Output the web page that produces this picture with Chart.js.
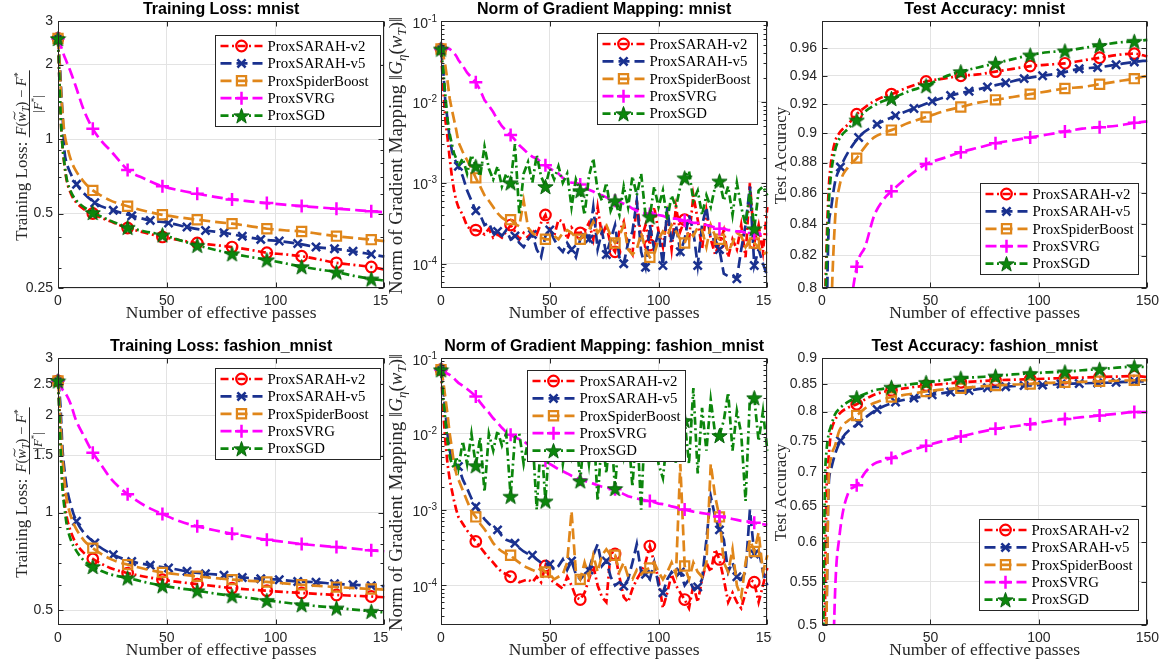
<!DOCTYPE html>
<html>
<head>
<meta charset="utf-8">
<script src="https://cdn.jsdelivr.net/npm/chart.js@4.4.1/dist/chart.umd.min.js"></script>
<style>
  html, body { margin: 0; padding: 0; background: #fff; }
  body { width: 1164px; height: 664px; position: relative; overflow: hidden; }
  canvas { position: absolute; background: #fff; }
</style>
</head>
<body>
<canvas id="lossMnist"></canvas>
<canvas id="gradMnist"></canvas>
<canvas id="accMnist"></canvas>
<canvas id="lossFashion"></canvas>
<canvas id="gradFashion"></canvas>
<canvas id="accFashion"></canvas>
<script>
// ---- data ----
const seriesNames = ['ProxSARAH-v2', 'ProxSARAH-v5', 'ProxSpiderBoost', 'ProxSVRG', 'ProxSGD'];

const passesSmooth = [0, 0.5, 1, 1.5, 2, 3, 4, 6, 8, 12, 16, 20, 24, 28, 32, 40, 48, 56, 64, 72, 80, 88, 96, 104, 112, 120, 128, 136, 144, 150];
const passesV5 = [0, 0.5, 1, 1.5, 2, 3, 4, 6, 8.5, 16.9, 25.4, 33.9, 42.4, 50.8, 59.3, 67.8, 76.3, 84.7, 93.2, 101.7, 110.2, 118.6, 127.1, 135.6, 144, 150];
const passesGrad = [0, 1, 2, 3, 4, 5, 6, 7, 8, 10, 12, 14, 16, 18, 20, 22, 24, 26, 28, 30, 32, 34, 36, 38, 40, 42, 44, 46, 48,
  50, 52, 54, 56, 58, 60, 62, 64, 66, 68, 70, 72, 74, 76, 78, 80, 82, 84, 86, 88, 90, 92, 94, 96, 98, 100, 102, 104, 106, 108,
  110, 112, 114, 116, 118, 120, 122, 124, 126, 128, 130, 132, 134, 136, 138, 140, 142, 144, 146, 148, 150];

const marksEvery16 = [0, 16, 32, 48, 64, 80, 96, 112, 128, 144];
const marksV5 = [0, 8.5, 16.9, 25.4, 33.9, 42.4, 50.8, 59.3, 67.8, 76.3, 84.7, 93.2, 101.7, 110.2, 118.6, 127.1, 135.6, 144];

const xTicks = [0, 50, 100, 150];
const yTicksLossMnist = [0.25, 0.5, 1, 2, 3];
const yTicksLossFashion = [0.5, 1, 1.5, 2, 2.5, 3];
const yTicksGrad = [1e-4, 1e-3, 1e-2, 1e-1];
const yTicksAccMnist = [0.8, 0.82, 0.84, 0.86, 0.88, 0.9, 0.92, 0.94, 0.96];
const yTicksAccFashion = [0.5, 0.55, 0.6, 0.65, 0.7, 0.75, 0.8, 0.85, 0.9];

// training loss: mnist
const lossMnistV2 = [2.55, 1.9, 1.4, 1.1, 0.95, 0.78, 0.68, 0.6, 0.56, 0.52, 0.5, 0.48, 0.465, 0.45, 0.437, 0.418, 0.402, 0.39, 0.38, 0.373, 0.366, 0.357, 0.347, 0.342, 0.336, 0.326, 0.316, 0.31, 0.304, 0.297];
const lossMnistV5 = [2.55, 2.2, 1.9, 1.55, 1.3, 0.89, 0.8, 0.72, 0.656, 0.553, 0.515, 0.49, 0.469, 0.458, 0.441, 0.427, 0.418, 0.405, 0.393, 0.387, 0.378, 0.366, 0.36, 0.352, 0.342, 0.335];
const lossMnistSB = [2.55, 2.2, 1.77, 1.5, 1.3, 1.05, 0.95, 0.82, 0.75, 0.67, 0.62, 0.59, 0.565, 0.548, 0.535, 0.512, 0.494, 0.482, 0.472, 0.463, 0.455, 0.445, 0.434, 0.428, 0.423, 0.414, 0.405, 0.398, 0.392, 0.387];
const lossMnistSVRG = [2.55, 2.5, 2.42, 2.35, 2.28, 2.15, 2.05, 1.85, 1.65, 1.3, 1.1, 0.98, 0.9, 0.82, 0.75, 0.69, 0.644, 0.62, 0.601, 0.584, 0.57, 0.56, 0.551, 0.543, 0.536, 0.529, 0.523, 0.517, 0.511, 0.506];
const lossMnistSGD = [2.55, 1.9, 1.4, 1.1, 0.95, 0.79, 0.69, 0.61, 0.57, 0.53, 0.505, 0.485, 0.468, 0.453, 0.44, 0.423, 0.41, 0.39, 0.372, 0.357, 0.344, 0.334, 0.325, 0.315, 0.305, 0.297, 0.29, 0.28, 0.272, 0.268];

// norm of gradient mapping: mnist
const gradMnistV2 = [4.5e-2, 1.5e-2, 6e-3, 3.6e-3, 2e-3, 1.2e-3, 8e-4, 6e-4, 5e-4,
  4e-4, 2.9e-4, 2.6e-4, 2.6e-4, 2.5e-4, 2.3e-4, 2.7e-4, 2.1e-4, 2.3e-4, 2.1e-4,
  2.5e-4, 3e-4, 2.5e-4, 2e-4, 2.4e-4, 2.1e-4, 2.6e-4, 2.3e-4, 3.2e-4, 4e-4,
  2.6e-4, 2.2e-4, 3.5e-4, 3.3e-4, 2e-4, 2.8e-4, 2.4e-4, 2.4e-4, 2.5e-4, 3.2e-4,
  2e-4, 5e-4, 2.2e-4, 3e-4, 1.7e-4, 1.4e-4, 2.5e-4, 3.3e-4, 1.6e-4, 1.3e-4,
  6e-4, 2e-4, 3e-4, 1.7e-4, 5e-4, 2.5e-4, 1.6e-4, 4e-4, 1.5e-4, 5e-4,
  2.5e-4, 3.5e-4, 2e-4, 7e-4, 3.5e-4, 1.5e-4, 4.5e-4, 2e-4, 1.3e-4, 1.8e-4,
  2.6e-4, 1.2e-4, 2e-4, 1.5e-4, 3e-4, 1.2e-4, 1e-3, 1.8e-4, 3e-4, 1.4e-4,
  5e-4];
const gradMnistV5 = [4.5e-2, 2.5e-2, 1e-2, 6e-3, 3.5e-3, 2.5e-3, 2e-3, 1.8e-3, 1.6e-3,
  1.2e-3, 8e-4, 6e-4, 4.5e-4, 4e-4, 3e-4, 3.2e-4, 2.4e-4, 2.5e-4, 2.2e-4,
  2.6e-4, 2e-4, 2.2e-4, 1.8e-4, 1.6e-4, 2e-4, 2.3e-4, 1.5e-4, 1.2e-4, 2.2e-4,
  2.6e-4, 2e-4, 1.6e-4, 1.4e-4, 1.8e-4, 1.5e-4, 1.2e-4, 2e-4, 2.5e-4, 2e-4,
  5e-4, 1.5e-4, 2.5e-4, 1.3e-4, 2e-4, 3e-4, 1.2e-4, 1e-4, 1.8e-4, 2.5e-4,
  6e-4, 1.4e-4, 9e-5, 3e-4, 1.5e-4, 2.5e-4, 9.5e-5, 5e-4, 1.8e-4, 3e-4,
  1.4e-4, 2e-4, 4e-4, 2.5e-4, 9.5e-5, 3e-4, 5e-4, 2e-4, 2e-4, 1.5e-4,
  7.5e-5, 7e-5, 7e-5, 6.5e-5, 1.5e-4, 3e-4, 9e-4, 9.5e-5, 1.5e-4, 1e-4,
  7e-5];
const gradMnistSB = [4.5e-2, 3.8e-2, 2.8e-2, 1.8e-2, 1.1e-2, 8e-3, 6e-3, 4.5e-3, 3.2e-3,
  2.4e-3, 1.9e-3, 1.5e-3, 1.15e-3, 9e-4, 7e-4, 6e-4, 5e-4, 4.2e-4, 3.7e-4,
  3.4e-4, 3.5e-4, 3.1e-4, 2.9e-4, 6e-4, 2.8e-4, 2.4e-4, 2.2e-4, 2.1e-4, 2e-4,
  2e-4, 2.2e-4, 2e-4, 2.4e-4, 2.6e-4, 2.4e-4, 2.1e-4, 2e-4, 2.3e-4, 2.6e-4,
  3.3e-4, 2.4e-4, 2.8e-4, 3e-4, 2.2e-4, 1.8e-4, 2.2e-4, 3e-4, 1.5e-4, 1.3e-4,
  1.5e-4, 2.4e-4, 1.5e-4, 1.2e-4, 1.3e-4, 2e-4, 2.5e-4, 2.2e-4, 3e-4, 2.5e-4,
  2e-4, 1.8e-4, 2.5e-4, 2.2e-4, 2.8e-4, 2.6e-4, 1.6e-4, 3e-4, 2.2e-4, 2e-4,
  2e-4, 1.4e-4, 1.8e-4, 2.4e-4, 2.2e-4, 1.6e-4, 2e-4, 1.8e-4, 1.6e-4, 1.3e-4,
  1.4e-4];
const gradMnistSVRG = [4.5e-2, 4.6e-2, 4.6e-2, 4.6e-2, 4.5e-2, 4.3e-2, 4e-2, 3.7e-2, 3.3e-2,
  2.8e-2, 2.3e-2, 2e-2, 1.75e-2, 1.4e-2, 1.05e-2, 9e-3, 7.5e-3, 6e-3, 5e-3,
  4.4e-3, 3.9e-3, 3.4e-3, 2.9e-3, 2.6e-3, 2.3e-3, 2.1e-3, 2e-3, 1.8e-3, 1.65e-3,
  1.5e-3, 1.4e-3, 1.3e-3, 1.15e-3, 1.05e-3, 1e-3, 1e-3, 9.5e-4, 8.8e-4, 8.2e-4,
  7.8e-4, 7.2e-4, 7e-4, 6.6e-4, 6.3e-4, 6e-4, 5.8e-4, 5.5e-4, 5.2e-4, 4.8e-4,
  4.5e-4, 4.3e-4, 4.2e-4, 4.1e-4, 4.4e-4, 4e-4, 3.9e-4, 3.7e-4, 3.6e-4, 3.6e-4,
  3.5e-4, 3.4e-4, 3.3e-4, 3.2e-4, 3.2e-4, 3.1e-4, 3e-4, 2.9e-4, 2.8e-4, 2.7e-4,
  2.7e-4, 2.6e-4, 2.6e-4, 2.5e-4, 2.5e-4, 2.4e-4, 2.4e-4, 2.4e-4, 2.3e-4, 2.3e-4,
  2.3e-4];
const gradMnistSGD = [4.5e-2, 2.5e-2, 1.2e-2, 6e-3, 4e-3, 3e-3, 2.3e-3, 2e-3, 1.6e-3,
  2e-3, 1.3e-3, 2.2e-3, 1.6e-3, 1.2e-3, 2.8e-3, 1.5e-3, 1.1e-3, 1.6e-3, 9e-4,
  1.3e-3, 1e-3, 3e-3, 4e-4, 1.3e-3, 1.8e-3, 1e-3, 2.2e-3, 1.2e-3, 9e-4,
  1.5e-3, 1.1e-3, 1.6e-3, 1e-3, 1.3e-3, 5e-4, 1.1e-3, 8e-4, 4e-4, 1.2e-3,
  2e-3, 8e-4, 6e-4, 1e-3, 4.5e-4, 6e-4, 4e-4, 9e-4, 5e-4, 1.2e-3,
  7e-4, 1.3e-3, 4e-4, 3.8e-4, 9e-4, 5e-4, 8e-4, 3.5e-4, 7e-4, 5e-4,
  9e-4, 1.15e-3, 1.4e-3, 6e-4, 8e-4, 4e-4, 7e-4, 5e-4, 9e-4, 1.05e-3,
  6e-4, 9e-4, 4e-4, 1e-3, 5e-4, 3e-4, 8e-4, 2.7e-4, 8e-4, 9e-4,
  7e-4];

// test accuracy: mnist
const accMnistV2 = [0.3, 0.5, 0.7, 0.79, 0.82, 0.86, 0.878, 0.894, 0.9, 0.906, 0.913, 0.918, 0.922, 0.925, 0.927, 0.932, 0.936, 0.938, 0.94, 0.941, 0.943, 0.945, 0.947, 0.948, 0.949, 0.951, 0.953, 0.955, 0.956, 0.954];
const accMnistV5 = [0.2, 0.35, 0.5, 0.65, 0.75, 0.834, 0.848, 0.867, 0.877, 0.897, 0.906, 0.912, 0.917, 0.922, 0.926, 0.929, 0.932, 0.935, 0.938, 0.94, 0.942, 0.945, 0.946, 0.948, 0.95, 0.951];
const accMnistSB = [0.2, 0.3, 0.4, 0.5, 0.6, 0.7, 0.77, 0.842, 0.864, 0.877, 0.883, 0.891, 0.897, 0.9, 0.902, 0.907, 0.911, 0.915, 0.918, 0.921, 0.923, 0.925, 0.927, 0.929, 0.931, 0.932, 0.934, 0.936, 0.938, 0.94];
const accMnistSVRG = [0.1, 0.15, 0.2, 0.25, 0.3, 0.4, 0.5, 0.6, 0.68, 0.77, 0.813, 0.826, 0.845, 0.855, 0.861, 0.871, 0.879, 0.883, 0.887, 0.89, 0.893, 0.895, 0.897, 0.899, 0.901, 0.903, 0.904, 0.905, 0.907, 0.908];
const accMnistSGD = [0.3, 0.5, 0.7, 0.78, 0.81, 0.85, 0.87, 0.888, 0.896, 0.903, 0.909, 0.915, 0.919, 0.922, 0.924, 0.929, 0.933, 0.939, 0.943, 0.946, 0.949, 0.952, 0.955, 0.957, 0.958, 0.96, 0.962, 0.964, 0.965, 0.966];

// training loss: fashion_mnist
const lossFashionV2 = [2.55, 2.2, 1.8, 1.45, 1.25, 1.08, 0.97, 0.87, 0.81, 0.75, 0.72, 0.695, 0.675, 0.661, 0.651, 0.634, 0.621, 0.61, 0.602, 0.593, 0.585, 0.579, 0.574, 0.569, 0.565, 0.561, 0.557, 0.554, 0.551, 0.548];
const lossFashionV5 = [2.55, 2.4, 2.2, 1.9, 1.6, 1.35, 1.2, 1.05, 0.94, 0.806, 0.741, 0.707, 0.688, 0.675, 0.659, 0.648, 0.641, 0.631, 0.625, 0.621, 0.613, 0.61, 0.603, 0.599, 0.595, 0.593];
const lossFashionSB = [2.55, 2.3, 2.0, 1.7, 1.5, 1.25, 1.1, 0.97, 0.9, 0.82, 0.777, 0.745, 0.72, 0.703, 0.691, 0.67, 0.654, 0.644, 0.636, 0.628, 0.621, 0.616, 0.611, 0.605, 0.599, 0.594, 0.589, 0.585, 0.581, 0.579];
const lossFashionSVRG = [2.55, 2.52, 2.48, 2.44, 2.4, 2.35, 2.3, 2.15, 1.95, 1.72, 1.53, 1.4, 1.28, 1.2, 1.14, 1.05, 0.99, 0.94, 0.907, 0.882, 0.861, 0.842, 0.825, 0.812, 0.8, 0.791, 0.783, 0.774, 0.765, 0.76];
const lossFashionSGD = [2.55, 2.1, 1.7, 1.4, 1.2, 1.03, 0.92, 0.82, 0.77, 0.71, 0.682, 0.66, 0.645, 0.636, 0.629, 0.61, 0.595, 0.584, 0.574, 0.563, 0.554, 0.545, 0.536, 0.528, 0.52, 0.514, 0.508, 0.502, 0.496, 0.492];

// norm of gradient mapping: fashion_mnist
const gradFashionV2 = [7e-2, 2e-2, 8e-3, 4e-3, 2.5e-3, 1.8e-3, 1.3e-3, 1e-3, 8e-4,
  6.5e-4, 5.3e-4, 4.5e-4, 3.8e-4, 3.2e-4, 2.7e-4, 2.3e-4, 2e-4, 1.7e-4, 1.5e-4,
  1.4e-4, 1.3e-4, 1.2e-4, 1.1e-4, 1.15e-4, 1.2e-4, 1.1e-4, 1.3e-4, 1.1e-4, 1.8e-4,
  1.2e-4, 1.1e-4, 1e-4, 9e-5, 1.3e-4, 1e-4, 7e-5, 6.5e-5, 8e-5, 1.2e-4,
  1.8e-4, 1e-4, 7e-5, 6e-5, 2.8e-4, 2.6e-4, 1.3e-4, 7e-5, 6e-5, 9e-5,
  1.2e-4, 1.5e-4, 2e-4, 3.3e-4, 2e-4, 1.2e-4, 5e-5, 8e-5, 1.4e-4, 1e-4,
  8e-5, 6.5e-5, 5e-5, 1e-4, 6e-5, 1.2e-4, 2e-4, 1.5e-4, 3e-4, 2.2e-4,
  1.2e-4, 6e-5, 8e-5, 6e-5, 5e-5, 8e-5, 1.2e-4, 1.1e-4, 6e-5, 1e-4,
  1.7e-4];
const gradFashionV5 = [7e-2, 4e-2, 2e-2, 1e-2, 6e-3, 4.5e-3, 3.8e-3, 3.5e-3, 3.7e-3,
  2.5e-3, 1.9e-3, 1.4e-3, 1.1e-3, 9e-4, 7.5e-4, 6.5e-4, 5.8e-4, 5.4e-4, 4.5e-4,
  4e-4, 3.8e-4, 3.6e-4, 3.1e-4, 2.8e-4, 2.6e-4, 2.5e-4, 2.2e-4, 2e-4, 1.9e-4,
  1.9e-4, 1.6e-4, 1.8e-4, 2.2e-4, 1.6e-4, 2.1e-4, 1.4e-4, 1.2e-4, 1.4e-4, 1.6e-4,
  2.5e-4, 3.5e-4, 1.8e-4, 2.1e-4, 1.3e-4, 1e-4, 1.1e-4, 9.8e-5, 1.2e-4, 2e-4,
  3.5e-4, 1.5e-4, 1.4e-4, 1.2e-4, 2e-4, 1e-4, 8e-5, 1.2e-4, 1.5e-4, 1.3e-4,
  1.5e-4, 1e-4, 1.2e-4, 9e-5, 9.5e-5, 1.2e-4, 4e-4, 1.5e-3, 8e-4, 5.4e-4,
  4e-4, 1.5e-4, 2e-4, 1.3e-4, 1.2e-4, 1.5e-4, 1e-3, 2.6e-4, 3e-4, 1.5e-4,
  1e-4];
const gradFashionSB = [7e-2, 5e-2, 3e-2, 1.8e-2, 1e-2, 6.5e-3, 4e-3, 3e-3, 2.5e-3,
  1.8e-3, 1.3e-3, 9.5e-4, 8e-4, 6.5e-4, 5.5e-4, 4.5e-4, 3.6e-4, 3.1e-4, 2.8e-4,
  2.6e-4, 2.5e-4, 2.2e-4, 2e-4, 1.8e-4, 1.7e-4, 1.6e-4, 1.5e-4, 1.7e-4, 1.5e-4,
  1.4e-4, 1.2e-4, 1.3e-4, 1.4e-4, 2e-4, 9.5e-4, 1.5e-4, 1.2e-4, 2e-4, 1.3e-4,
  2.5e-4, 1.5e-4, 2.5e-4, 3e-4, 2.5e-4, 2.5e-4, 1.5e-4, 2e-4, 1.3e-4, 1.2e-4,
  1.6e-4, 1.4e-4, 1.6e-4, 1.7e-4, 2e-4, 1.5e-4, 1.2e-4, 1.5e-4, 2e-4, 1.4e-4,
  4e-3, 1.8e-4, 1.2e-4, 2e-4, 1.5e-4, 1.3e-4, 2e-4, 4e-3, 1.5e-3, 8e-4,
  2e-4, 1.5e-4, 3e-4, 1e-4, 7e-5, 2e-4, 4e-4, 2.8e-4, 5e-4, 1.5e-4,
  2.5e-4];
const gradFashionSVRG = [7e-2, 6.8e-2, 6.5e-2, 6.2e-2, 6e-2, 5.7e-2, 5.4e-2, 5e-2, 4.7e-2,
  4.3e-2, 3.9e-2, 3.5e-2, 3.1e-2, 2.6e-2, 2.2e-2, 1.9e-2, 1.6e-2, 1.4e-2, 1.2e-2,
  1.05e-2, 9.7e-3, 9e-3, 8.5e-3, 8e-3, 7.2e-3, 6.3e-3, 5.5e-3, 4.8e-3, 4.4e-3,
  4e-3, 3.7e-3, 3.4e-3, 3.2e-3, 3e-3, 2.8e-3, 2.65e-3, 2.5e-3, 2.4e-3, 2.3e-3,
  2.2e-3, 2.1e-3, 2e-3, 1.95e-3, 1.9e-3, 1.85e-3, 1.7e-3, 1.6e-3, 1.5e-3, 1.45e-3,
  1.4e-3, 1.35e-3, 1.32e-3, 1.3e-3, 1.25e-3, 1.2e-3, 1.18e-3, 1.15e-3, 1.1e-3, 1.07e-3,
  1.03e-3, 1e-3, 9.7e-4, 9.4e-4, 9.2e-4, 9e-4, 8.8e-4, 8.6e-4, 8.3e-4, 8.1e-4,
  7.9e-4, 7.7e-4, 7.5e-4, 7.3e-4, 7.1e-4, 7e-4, 6.9e-4, 6.7e-4, 6.5e-4, 6.4e-4,
  6.3e-4];
const gradFashionSGD = [7e-2, 3e-2, 1.5e-2, 8e-3, 5e-3, 4e-3, 3.5e-3, 5e-3, 3.5e-3,
  8e-3, 4e-3, 1e-2, 3.8e-3, 9e-3, 1.7e-3, 1e-2, 6e-3, 1.1e-2, 7e-3,
  1e-2, 1.5e-3, 9e-3, 1e-2, 4e-3, 8e-3, 1e-2, 1e-3, 9e-3, 1.3e-3,
  1e-2, 5e-3, 1.2e-2, 4e-3, 1e-2, 5e-3, 1e-2, 2.4e-3, 1.1e-2, 4e-3,
  1.5e-2, 1.3e-3, 1e-2, 3e-3, 1.3e-2, 1.9e-3, 1.2e-2, 5e-3, 1.1e-2, 2e-3,
  1.5e-2, 1e-3, 2e-2, 6e-3, 1.2e-2, 4e-3, 2.6e-3, 9e-3, 1.6e-2, 4e-3,
  2e-2, 1.5e-2, 4e-3, 4e-2, 3e-3, 2.2e-2, 6e-3, 2.8e-2, 1e-2, 9.5e-3,
  1.5e-2, 3.5e-2, 6e-3, 2e-2, 1e-2, 1.3e-3, 3e-2, 3e-2, 8e-3, 2e-2,
  6e-3];

// test accuracy: fashion_mnist
const accFashionV2 = [0.2, 0.3, 0.4, 0.55, 0.66, 0.72, 0.76, 0.785, 0.796, 0.807, 0.813, 0.822, 0.83, 0.835, 0.838, 0.843, 0.847, 0.85, 0.853, 0.855, 0.857, 0.858, 0.859, 0.86, 0.861, 0.862, 0.863, 0.864, 0.865, 0.863];
const accFashionV5 = [0.15, 0.25, 0.35, 0.45, 0.5, 0.674, 0.702, 0.728, 0.75, 0.78, 0.8035, 0.817, 0.824, 0.83, 0.835, 0.838, 0.843, 0.845, 0.847, 0.848, 0.85, 0.851, 0.852, 0.853, 0.855, 0.855];
const accFashionSB = [0.15, 0.25, 0.35, 0.45, 0.5, 0.68, 0.72, 0.742, 0.767, 0.784, 0.793, 0.806, 0.815, 0.821, 0.826, 0.831, 0.836, 0.84, 0.842, 0.845, 0.847, 0.849, 0.85, 0.852, 0.853, 0.854, 0.855, 0.856, 0.857, 0.857];
const accFashionSVRG = [0.05, 0.08, 0.1, 0.13, 0.16, 0.25, 0.35, 0.535, 0.607, 0.668, 0.68, 0.7, 0.713, 0.718, 0.722, 0.733, 0.742, 0.75, 0.757, 0.764, 0.77, 0.774, 0.778, 0.783, 0.787, 0.79, 0.793, 0.796, 0.799, 0.799];
const accFashionSGD = [0.3, 0.45, 0.6, 0.7, 0.73, 0.76, 0.773, 0.795, 0.805, 0.817, 0.825, 0.832, 0.838, 0.841, 0.844, 0.849, 0.853, 0.857, 0.861, 0.863, 0.865, 0.868, 0.87, 0.872, 0.873, 0.876, 0.878, 0.881, 0.883, 0.882];

// ---- styling ----
const SANS = '"Liberation Sans", Arial, Helvetica, sans-serif';
const SERIF = '"Liberation Serif", "Times New Roman", serif';
const AXIS = '#262626';
const GRID = '#e3e3e3';

function makeStar(size, fill, edge) {
    const c = document.createElement('canvas');
    c.width = size; c.height = size;
    const g = c.getContext('2d');
    const cx = size / 2, cy = size / 2 + size * 0.05, R = size / 2 - 0.5, r = R * 0.4;
    g.beginPath();
    for (let i = 0; i < 10; i++) {
        const ang = -Math.PI / 2 + i * Math.PI / 5;
        const rr = i % 2 ? r : R;
        g.lineTo(cx + rr * Math.cos(ang), cy + rr * Math.sin(ang));
    }
    g.closePath();
    g.fillStyle = fill; g.fill();
    g.strokeStyle = edge; g.lineWidth = 1; g.stroke();
    return c;
}
const STAR = makeStar(17, '#0c860c', '#06600a');

const DASH = [11, 5];
const DASHDOT = [8, 3.5, 2, 3.5];
const styles = [
    { color: '#ff0000', dash: DASHDOT, point: 'circle', radius: 5.3, pw: 2.2 },
    { color: '#1a318f', dash: DASH, point: 'crossRot', radius: 5.8, pw: 2.5 },
    { color: '#e0861a', dash: DASH, point: 'rect', radius: 6.5, pw: 2.2 },
    { color: '#ff00ff', dash: DASH, point: 'cross', radius: 6.5, pw: 2.5 },
    { color: '#0c860c', dash: DASHDOT, point: STAR, radius: 8, pw: 1 }
];

function nearestIndices(xs, targets) {
    const set = new Set();
    targets.forEach(t => {
        let best = 0;
        xs.forEach((x, i) => { if (Math.abs(x - t) < Math.abs(xs[best] - t)) best = i; });
        set.add(best);
    });
    return set;
}

function makeDataset(k, xs, ys, marks, smooth) {
    const st = styles[k];
    const marked = nearestIndices(xs, marks);
    return {
        label: seriesNames[k],
        data: xs.map((x, i) => ({ x, y: ys[i] })),
        borderColor: st.color,
        backgroundColor: 'rgba(0,0,0,0)',
        borderWidth: 2.7,
        borderDash: st.dash,
        pointStyle: st.point,
        pointRadius: ctx => marked.has(ctx.dataIndex) ? st.radius : 0,
        pointHoverRadius: 0,
        pointBorderWidth: st.pw,
        pointBorderColor: st.color,
        pointBackgroundColor: 'rgba(0,0,0,0)',
        cubicInterpolationMode: smooth ? 'monotone' : 'default',
        tension: 0,
        order: 4 - k,
        clip: { left: 10, top: 8, right: 2, bottom: 0 }
    };
}

function smoothSets(v2, v5, sb, svrg, sgd) {
    return [
        makeDataset(0, passesSmooth, v2, marksEvery16, true),
        makeDataset(1, passesV5, v5, marksV5, true),
        makeDataset(2, passesSmooth, sb, marksEvery16, true),
        makeDataset(3, passesSmooth, svrg, marksEvery16, true),
        makeDataset(4, passesSmooth, sgd, marksEvery16, true)
    ];
}

function gradSets(v2, v5, sb, svrg, sgd) {
    return [
        makeDataset(0, passesGrad, v2, marksEvery16, false),
        makeDataset(1, passesGrad, v5, marksV5, false),
        makeDataset(2, passesGrad, sb, marksEvery16, false),
        makeDataset(3, passesGrad, svrg, marksEvery16, false),
        makeDataset(4, passesGrad, sgd, marksEvery16, false)
    ];
}

// ---- rich text for the y labels ----
function segFont(s) { return (s.italic ? 'italic ' : '') + s.size + 'px ' + SERIF; }

function richWidth(ctx, segs) {
    let w = 0;
    segs.forEach(s => {
        if (s.frac) {
            w += Math.max(richWidth(ctx, s.frac.num), richWidth(ctx, s.frac.den)) + 4;
        } else {
            ctx.font = segFont(s);
            w += ctx.measureText(s.t).width;
        }
    });
    return w;
}

function drawRich(ctx, segs, x, y) {
    segs.forEach(s => {
        if (s.frac) {
            const wn = richWidth(ctx, s.frac.num), wd = richWidth(ctx, s.frac.den);
            const w = Math.max(wn, wd) + 4;
            drawRich(ctx, s.frac.num, x + (w - wn) / 2, y + s.frac.numY);
            drawRich(ctx, s.frac.den, x + (w - wd) / 2, y + s.frac.denY);
            ctx.fillRect(x, y + s.frac.barY - 0.5, w, 1);
            x += w;
            return;
        }
        ctx.font = segFont(s);
        const w = ctx.measureText(s.t).width;
        const by = y + (s.dy || 0);
        ctx.fillText(s.t, x, by);
        if (s.tilde) {
            const ty = by - s.size * 0.8, tx = x + w * 0.2, tw = w * 0.85;
            ctx.beginPath();
            ctx.moveTo(tx, ty + 1);
            ctx.bezierCurveTo(tx + tw * 0.3, ty - 2.5, tx + tw * 0.6, ty + 3, tx + tw, ty - 1);
            ctx.lineWidth = 1;
            ctx.stroke();
        }
        x += w;
    });
    return x;
}

const lossLabel = [
    { t: 'Training Loss: ', size: 17 },
    { frac: {
        numY: -1, barY: 2.5, denY: 14.5,
        num: [
            { t: 'F', size: 14.5, italic: true }, { t: '(', size: 14.5 },
            { t: 'w', size: 14.5, italic: true, tilde: true }, { t: 'T', size: 10, italic: true, dy: 2.5 },
            { t: ')', size: 14.5 }, { t: ' \u2212 ', size: 14.5 }, { t: 'F', size: 14.5, italic: true },
            { t: '*', size: 10, dy: -5.5 }
        ],
        den: [
            { t: '|', size: 13 }, { t: 'F', size: 13, italic: true }, { t: '*', size: 9, dy: -5 }, { t: '|', size: 13 }
        ]
    } }
];
const gradLabel = [
    { t: 'Norm of Gradient Mapping ', size: 19 },
    { t: '\u2016', size: 19 }, { t: 'G', size: 19, italic: true }, { t: '\u03b7', size: 13, italic: true, dy: 4 },
    { t: '(', size: 19 }, { t: 'w', size: 19, italic: true, tilde: true }, { t: 'T', size: 13, italic: true, dy: 4 },
    { t: ')', size: 19 }, { t: '\u2016', size: 19 }
];
const accLabel = [{ t: 'Test Accuracy', size: 17 }];

function minorTicks(min, max, majors) {
    const out = [];
    for (let e = Math.floor(Math.log10(min)); e <= Math.ceil(Math.log10(max)); e++) {
        for (let m = 2; m <= 9; m++) {
            const v = m * Math.pow(10, e);
            if (v <= min * 1.001 || v >= max * 0.999) continue;
            if (majors.some(t => Math.abs(t - v) < v * 1e-6)) continue;
            out.push(v);
        }
    }
    return out;
}

function drawMarker(ctx, st, x, y) {
    ctx.save();
    ctx.setLineDash([]);
    ctx.strokeStyle = st.color;
    ctx.lineWidth = st.pw;
    const r = st.radius;
    ctx.beginPath();
    if (st.point === 'circle') {
        ctx.arc(x, y, r, 0, Math.PI * 2);
    } else if (st.point === 'crossRot') {
        const d = r * Math.SQRT1_2;
        ctx.moveTo(x - d, y - d); ctx.lineTo(x + d, y + d);
        ctx.moveTo(x + d, y - d); ctx.lineTo(x - d, y + d);
    } else if (st.point === 'rect') {
        const d = r * Math.SQRT1_2;
        ctx.rect(x - d, y - d, 2 * d, 2 * d);
    } else if (st.point === 'cross') {
        ctx.moveTo(x, y - r); ctx.lineTo(x, y + r);
        ctx.moveTo(x - r, y); ctx.lineTo(x + r, y);
    } else {
        ctx.drawImage(st.point, x - st.point.width / 2, y - st.point.height / 2);
    }
    ctx.stroke();
    ctx.restore();
}

// MATLAB-like frame, labels and legend
const matlabFrame = {
    id: 'matlabFrame',
    afterDraw(chart, _args, o) {
        const { ctx, chartArea: a } = chart;
        const xs = chart.scales.x, ys = chart.scales.y;
        const L = Math.round(a.left) + 0.5, R = Math.round(a.right) - 0.5;
        const T = Math.round(a.top) + 0.5, B = Math.round(a.bottom) - 0.5;
        ctx.save();

        // inward ticks + box
        ctx.strokeStyle = AXIS;
        ctx.lineWidth = 1;
        ctx.setLineDash([]);
        ctx.beginPath();
        o.yTicks.forEach(v => {
            const p = Math.round(ys.getPixelForValue(v)) + 0.5;
            ctx.moveTo(L, p); ctx.lineTo(L + 5, p);
            ctx.moveTo(R, p); ctx.lineTo(R - 5, p);
        });
        minorTicks(ys.min, ys.max, o.yTicks).forEach(v => {
            const p = Math.round(ys.getPixelForValue(v)) + 0.5;
            ctx.moveTo(L, p); ctx.lineTo(L + 3, p);
            ctx.moveTo(R, p); ctx.lineTo(R - 3, p);
        });
        xTicks.forEach(v => {
            const p = Math.round(xs.getPixelForValue(v)) + 0.5;
            ctx.moveTo(p, B); ctx.lineTo(p, B - 5);
            ctx.moveTo(p, T); ctx.lineTo(p, T + 5);
        });
        ctx.stroke();
        ctx.strokeRect(L, T, R - L, B - T);

        // power-of-ten tick labels
        if (o.power) {
            ctx.fillStyle = AXIS;
            ctx.textAlign = 'left';
            ctx.textBaseline = 'alphabetic';
            o.yTicks.forEach(v => {
                const e = String(Math.round(Math.log10(v)));
                const p = ys.getPixelForValue(v);
                ctx.font = '10px ' + SANS;
                const ws = ctx.measureText(e).width;
                ctx.font = '14px ' + SANS;
                const wb = ctx.measureText('10').width;
                const right = a.left - 4;
                ctx.fillText('10', right - ws - wb, p + 6.5);
                ctx.font = '10px ' + SANS;
                ctx.fillText(e, right - ws, p + 0.5);
            });
        }

        // title
        ctx.fillStyle = '#000';
        ctx.font = 'bold 16px ' + SANS;
        ctx.textAlign = 'center';
        ctx.textBaseline = 'middle';
        ctx.fillText(o.title, (a.left + a.right) / 2, a.top - 11);

        // x label
        ctx.fillStyle = AXIS;
        ctx.font = '17.5px ' + SERIF;
        ctx.textBaseline = 'alphabetic';
        ctx.fillText('Number of effective passes', (a.left + a.right) / 2, a.bottom + 30);

        // y label (rotated)
        ctx.save();
        ctx.translate(a.left + o.yLabelX, (a.top + a.bottom) / 2 + 1);
        ctx.rotate(-Math.PI / 2);
        ctx.textAlign = 'left';
        ctx.fillStyle = AXIS;
        ctx.strokeStyle = AXIS;
        const wl = richWidth(ctx, o.yLabel);
        drawRich(ctx, o.yLabel, -wl / 2, 0);
        ctx.restore();

        // legend
        const lg = o.legend;
        const bx = Math.round(a.left + lg.x) + 0.5, by = Math.round(a.top + lg.y) + 0.5;
        ctx.fillStyle = '#fff';
        ctx.fillRect(bx, by, lg.w, 91);
        ctx.strokeStyle = AXIS;
        ctx.lineWidth = 1;
        ctx.strokeRect(bx, by, lg.w, 91);
        seriesNames.forEach((name, i) => {
            const st = styles[i];
            const ry = by + 10.5 + i * 17.4;
            ctx.save();
            ctx.strokeStyle = st.color;
            ctx.lineWidth = 2.7;
            ctx.setLineDash(st.dash);
            ctx.beginPath();
            ctx.moveTo(bx + 5, ry); ctx.lineTo(bx + 47, ry);
            ctx.stroke();
            ctx.restore();
            drawMarker(ctx, st, bx + 26, ry);
            ctx.fillStyle = '#000';
            ctx.font = '14.8px ' + SERIF;
            ctx.textAlign = 'left';
            ctx.textBaseline = 'middle';
            ctx.fillText(name, bx + 52, ry + 1);
        });
        ctx.restore();
    }
};

function makeChart(id, geo, cfg) {
    const el = document.getElementById(id);
    el.width = geo.leftW + geo.plotW + geo.padR;
    el.height = geo.padT + 267 + 40;
    el.style.left = geo.left + 'px';
    el.style.top = geo.top + 'px';
    const tickFont = { family: SANS, size: 14 };
    return new Chart(el, {
        type: 'line',
        data: { datasets: cfg.datasets },
        options: {
            responsive: false,
            animation: false,
            events: [],
            devicePixelRatio: 1,
            layout: { padding: { left: 0, right: geo.padR, top: geo.padT, bottom: 0 } },
            plugins: {
                legend: { display: false },
                tooltip: { enabled: false },
                title: { display: false },
                matlabFrame: {
                    title: cfg.title, yTicks: cfg.yTicks, yLabel: cfg.yLabel, yLabelX: cfg.yLabelX,
                    power: !!cfg.power, legend: cfg.legend
                }
            },
            scales: {
                x: {
                    type: 'linear', min: 0, max: 150,
                    afterBuildTicks: s => { s.ticks = xTicks.map(v => ({ value: v })); },
                    ticks: { font: tickFont, color: AXIS, padding: 5, maxRotation: 0, autoSkip: false },
                    grid: { color: GRID, drawTicks: false },
                    border: { display: false },
                    afterFit: s => { s.height = 40; }
                },
                y: {
                    type: 'logarithmic', min: cfg.yMin, max: cfg.yMax,
                    afterBuildTicks: s => { s.ticks = cfg.yTicks.map(v => ({ value: v })); },
                    ticks: {
                        font: tickFont, color: AXIS, padding: 5, autoSkip: false,
                        callback: v => cfg.power ? '' : String(v)
                    },
                    grid: { color: GRID, drawTicks: false },
                    border: { display: false },
                    afterFit: s => { s.width = geo.leftW; }
                }
            }
        },
        plugins: [matlabFrame]
    });
}

document.addEventListener('DOMContentLoaded', function () {
    const col1 = { leftW: 58, plotW: 329, padR: 14, left: 0 };
    const col2 = { leftW: 53, plotW: 329, padR: 14, left: 388 };
    const col3 = { leftW: 50, plotW: 330, padR: 12, left: 772 };
    const row1 = { padT: 21, top: 0 };
    const row2 = { padT: 28, top: 330 };

    makeChart('lossMnist', { ...col1, ...row1 }, {
        title: 'Training Loss: mnist', yMin: 0.25, yMax: 3, yTicks: yTicksLossMnist,
        yLabel: lossLabel, yLabelX: -31, legend: { x: 157, y: 14, w: 165 },
        datasets: smoothSets(lossMnistV2, lossMnistV5, lossMnistSB, lossMnistSVRG, lossMnistSGD)
    });
    makeChart('gradMnist', { ...col2, ...row1 }, {
        title: 'Norm of Gradient Mapping: mnist', yMin: 5e-5, yMax: 0.1, yTicks: yTicksGrad, power: true,
        yLabel: gradLabel, yLabelX: -39, legend: { x: 156, y: 12, w: 160 },
        datasets: gradSets(gradMnistV2, gradMnistV5, gradMnistSB, gradMnistSVRG, gradMnistSGD)
    });
    makeChart('accMnist', { ...col3, ...row1 }, {
        title: 'Test Accuracy: mnist', yMin: 0.8, yMax: 0.98, yTicks: yTicksAccMnist,
        yLabel: accLabel, yLabelX: -36, legend: { x: 158, y: 162, w: 158 },
        datasets: smoothSets(accMnistV2, accMnistV5, accMnistSB, accMnistSVRG, accMnistSGD)
    });
    makeChart('lossFashion', { ...col1, ...row2 }, {
        title: 'Training Loss: fashion_mnist', yMin: 0.45, yMax: 3, yTicks: yTicksLossFashion,
        yLabel: lossLabel, yLabelX: -31, legend: { x: 157, y: 10, w: 165 },
        datasets: smoothSets(lossFashionV2, lossFashionV5, lossFashionSB, lossFashionSVRG, lossFashionSGD)
    });
    makeChart('gradFashion', { ...col2, ...row2 }, {
        title: 'Norm of Gradient Mapping: fashion_mnist', yMin: 3e-5, yMax: 0.1, yTicks: yTicksGrad, power: true,
        yLabel: gradLabel, yLabelX: -39, legend: { x: 86, y: 12, w: 158 },
        datasets: gradSets(gradFashionV2, gradFashionV5, gradFashionSB, gradFashionSVRG, gradFashionSGD)
    });
    makeChart('accFashion', { ...col3, ...row2 }, {
        title: 'Test Accuracy: fashion_mnist', yMin: 0.5, yMax: 0.9, yTicks: yTicksAccFashion,
        yLabel: accLabel, yLabelX: -36, legend: { x: 157, y: 161, w: 159 },
        datasets: smoothSets(accFashionV2, accFashionV5, accFashionSB, accFashionSVRG, accFashionSGD)
    });
});
</script>
</body>
</html>
